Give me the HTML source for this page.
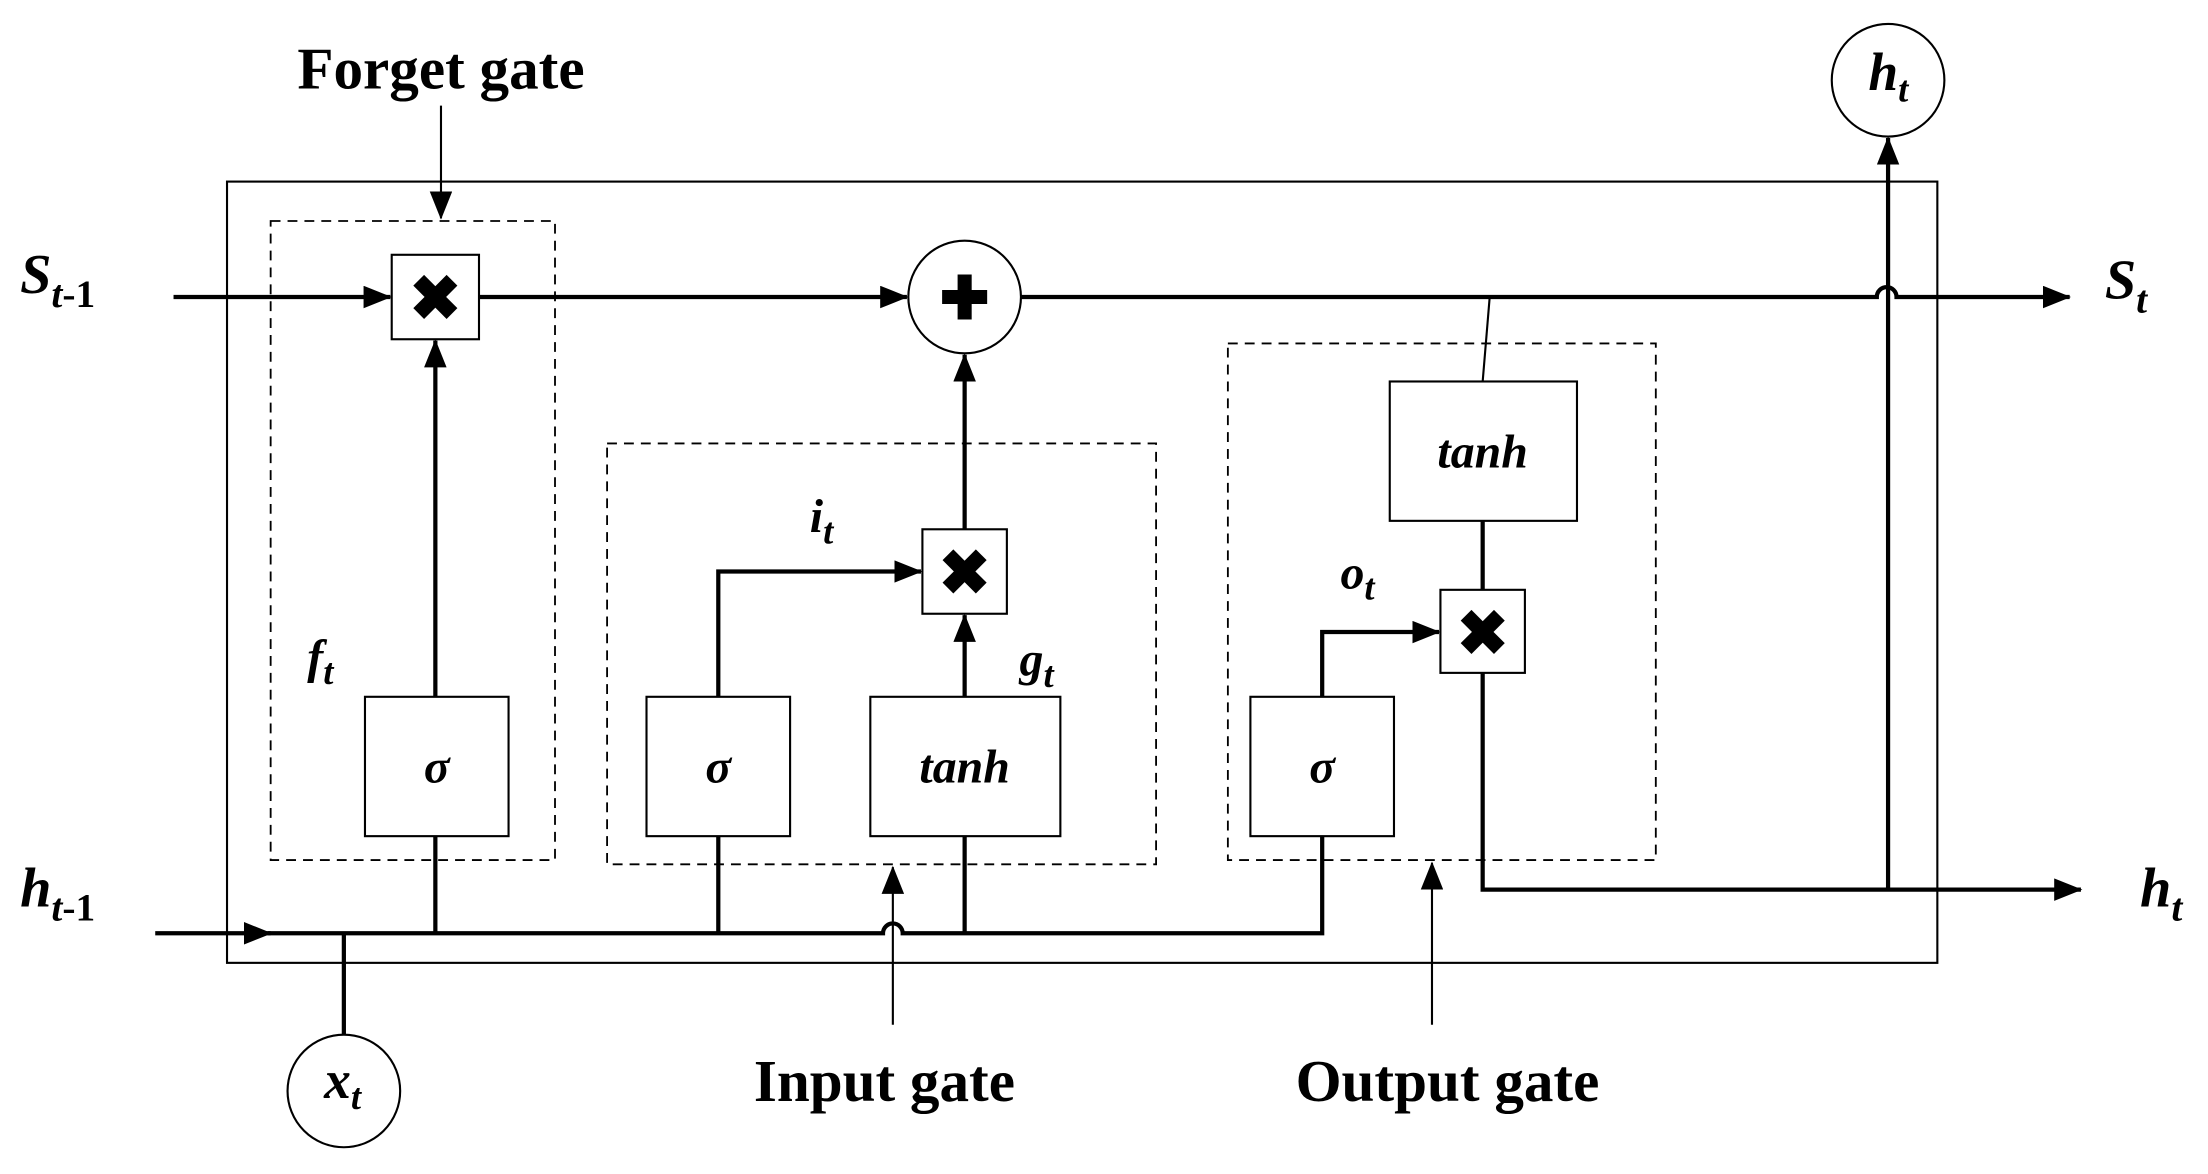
<!DOCTYPE html>
<html><head><style>body{margin:0;background:#fff}svg{display:block}</style></head><body>
<svg width="2208" height="1174" viewBox="0 0 1568 834" xmlns="http://www.w3.org/2000/svg" font-family="Liberation Serif, serif" font-weight="bold">
<defs><marker id="b" markerWidth="20" markerHeight="16" refX="19" refY="8" orient="auto" markerUnits="userSpaceOnUse"><path d="M0,0 L20,8 L0,16Z" fill="#000"/></marker></defs>
<g fill="none" stroke="#000">
<rect x="161" y="129" width="1215" height="555" stroke-width="1.5"/>
<g stroke-dasharray="7,5" stroke-width="1.3">
<rect x="192" y="157" width="202" height="454"/>
<rect x="431" y="315" width="390" height="299"/>
<rect x="872" y="244" width="304" height="367"/>
</g>
<g stroke-width="1.5">
<rect x="278" y="181" width="62" height="60"/>
<rect x="655" y="376" width="60" height="60"/>
<rect x="1023" y="419" width="60" height="59"/>
<rect x="259" y="495" width="102" height="99"/>
<rect x="459" y="495" width="102" height="99"/>
<rect x="618" y="495" width="135" height="99"/>
<rect x="888" y="495" width="102" height="99"/>
<rect x="987" y="271" width="133" height="99"/>
<circle cx="685" cy="211" r="40"/>
<circle cx="1341" cy="57" r="40"/>
<circle cx="244" cy="775" r="40"/>
<path d="M313,75 V155" marker-end="url(#b)"/>
<path d="M634,728 V616" marker-end="url(#b)"/>
<path d="M1017,728 V613" marker-end="url(#b)"/>
<path d="M1053,271 L1058,211"/>
</g>
<g stroke-width="3">
<path d="M123,211 H277" marker-end="url(#b)"/>
<path d="M340,211 H644" marker-end="url(#b)"/>
<path d="M725,211 H1333 a7,7 0 0 1 14,0 H1470" marker-end="url(#b)"/>
<path d="M309,495 V242" marker-end="url(#b)"/>
<path d="M685,495 V437" marker-end="url(#b)"/>
<path d="M685,376 V252" marker-end="url(#b)"/>
<path d="M510,495 V406 H654" marker-end="url(#b)"/>
<path d="M939,495 V449 H1022" marker-end="url(#b)"/>
<path d="M1053,370 V419"/>
<path d="M1053,478 V632 H1478" marker-end="url(#b)"/>
<path d="M1341,632 V98" marker-end="url(#b)"/>
<path d="M110,663 H192" marker-end="url(#b)"/>
<path d="M190,663 H627 a7,7 0 0 1 14,0 H939 V594"/>
<path d="M309,594 V663 M510,594 V663 M685,594 V663 M244,663 V735"/>
</g>
</g>
<g font-size="44" text-anchor="middle" fill="#000" font-family="Liberation Sans, sans-serif">
<text x="309" y="227">✖</text><text x="685" y="422">✖</text><text x="1053" y="465">✖</text>
</g>
<path d="M680,195 h10 v11 h11 v10 h-11 v11 h-10 v-11 h-11 v-10 h11z" fill="#000"/>
<g font-size="42" fill="#000" text-anchor="middle">
<text x="313" y="63">Forget gate</text>
<text x="628" y="782">Input gate</text>
<text x="1028" y="782">Output gate</text>
</g>
<g font-size="34" font-style="italic" fill="#000">
<text x="310" y="556" text-anchor="middle">σ</text>
<text x="510" y="556" text-anchor="middle">σ</text>
<text x="939" y="556" text-anchor="middle">σ</text>
<text x="685" y="556" text-anchor="middle">tanh</text>
<text x="1053" y="332" text-anchor="middle">tanh</text>
<text x="14" y="208" font-size="40">S<tspan font-size="28" dy="10">t</tspan><tspan font-style="normal" font-size="28">-1</tspan></text>
<text x="1495" y="212" font-size="40">S<tspan font-size="28" dy="10">t</tspan></text>
<text x="14" y="644" font-size="40">h<tspan font-size="28" dy="10">t</tspan><tspan font-style="normal" font-size="28">-1</tspan></text>
<text x="1520" y="644" font-size="40">h<tspan font-size="28" dy="10">t</tspan></text>
<text x="1327" y="64" font-size="38">h<tspan font-size="26" dy="8">t</tspan></text>
<text x="230" y="780" font-size="38">x<tspan font-size="26" dy="8">t</tspan></text>
<text x="218" y="478">f<tspan font-size="26" dy="8">t</tspan></text>
<text x="575" y="378">i<tspan font-size="26" dy="8">t</tspan></text>
<text x="724" y="480">g<tspan font-size="26" dy="8">t</tspan></text>
<text x="952" y="418">o<tspan font-size="26" dy="8">t</tspan></text>
</g>
</svg>
</body></html>
